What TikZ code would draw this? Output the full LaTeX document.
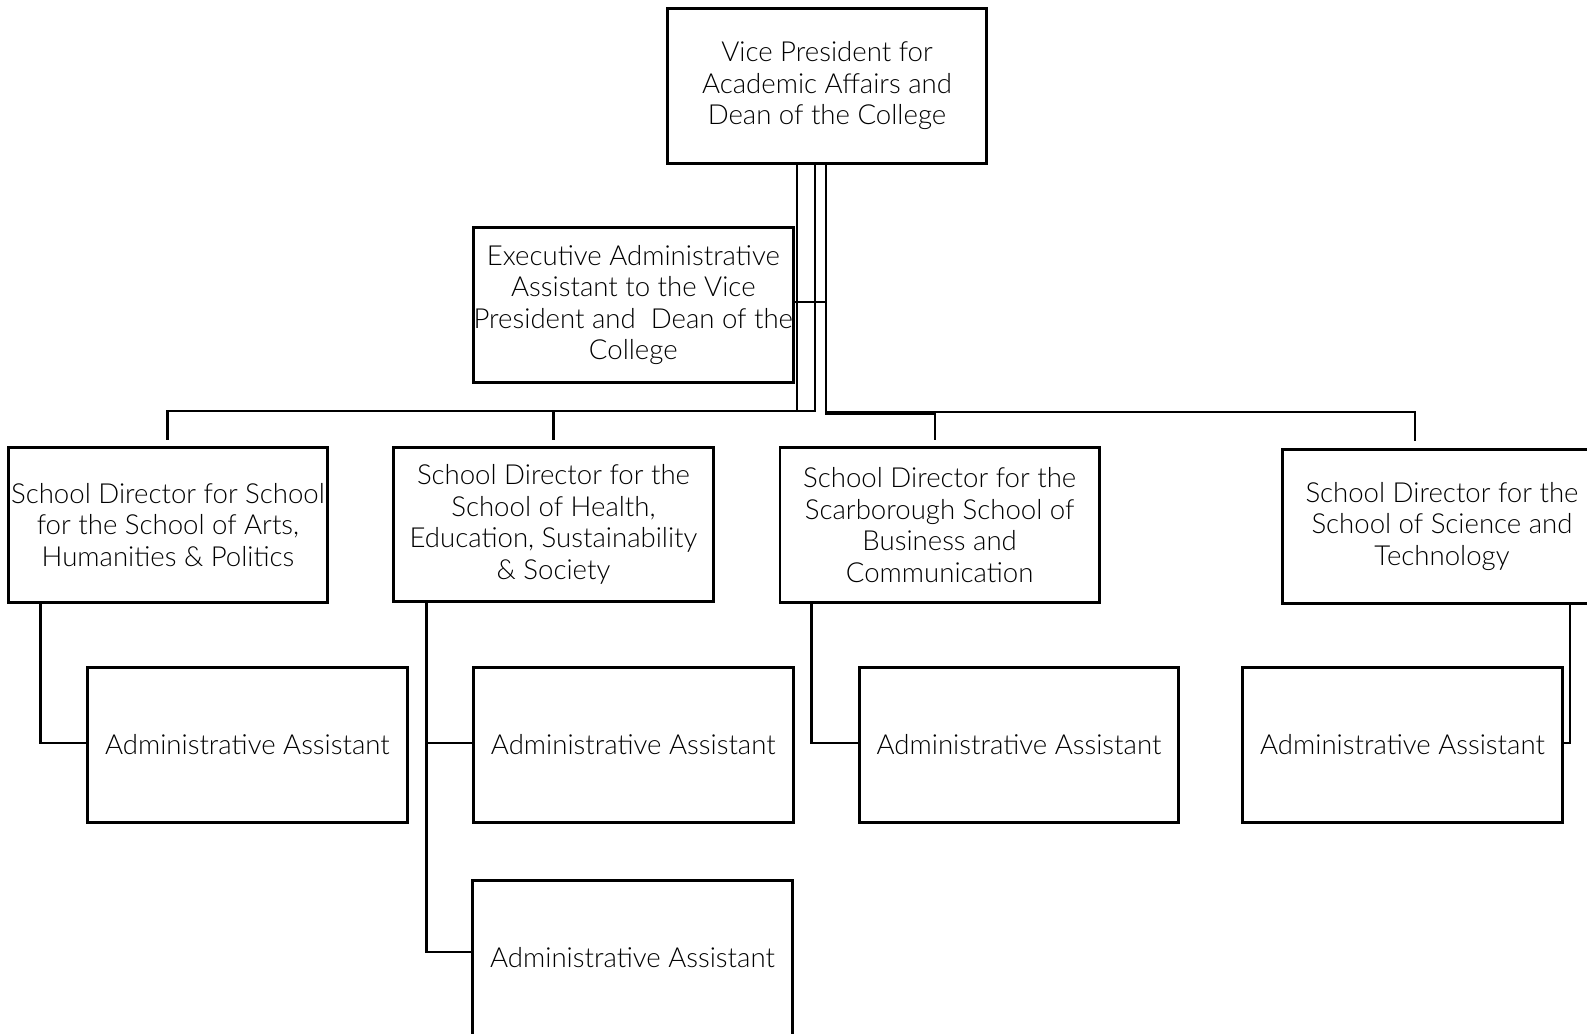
\documentclass[tikz,border=0pt]{standalone}
\usepackage{fontspec}
\setmainfont{Lato}[UprightFont={* Light},BoldFont={*}]
\begin{document}
\begin{tikzpicture}[x=0.5pt,y=-0.5pt,
  box/.style={draw=black,line width=1.45pt,fill=white,minimum width=159.75pt,minimum height=77.25pt,inner sep=0pt,align=center,text=black,font=\fontsize{13.8pt}{15.75pt}\selectfont},
  conn/.style={draw=black,line width=1.45pt},
  stub/.style={conn,shorten >=3.2pt}]
\useasboundingbox[fill=white] (0,0) rectangle (1587,1034);
% nodes
\node[box] (vp) at (827,85.8) {Vice President for\\Academic Affairs and\\Dean of the College};
\node[box] (exec) at (633.3,304.9) {Executive Administrative\\Assistant to the Vice\\President and\ \ Dean of the\\College};
\node[box] (arts) at (168,524.8) {School Director for School\\for the School of Arts,\\Humanities \& Politics};
\node[box] (health) at (553.5,524.6) {School Director for the\\School of Health,\\Education, Sustainability\\\& Society};
\node[box] (scarb) at (939.7,525) {School Director for the\\Scarborough School of\\Business and\\Communication};
\node[box] (sci) at (1442,526.3) {School Director for the\\School of Science and\\Technology};
\node[box] (a1) at (247.4,745) {Administrative Assistant};
\node[box] (a2) at (633.3,745) {Administrative Assistant};
\node[box] (a3) at (1019,745) {Administrative Assistant};
\node[box] (a4) at (1402.5,745) {Administrative Assistant};
\node[box] (a5) at (632.5,958) {Administrative Assistant};
% guide coordinates
\coordinate (g1) at (797,411);
\coordinate (g2) at (815,411);
\coordinate (g3) at (826,302);
\coordinate (g4) at (826,413.3);
\coordinate (g5) at (826,412);
\coordinate (xa) at (167.7,0);
\coordinate (xh) at (553.3,0);
\coordinate (xs) at (935,0);
\coordinate (xt) at (1415,0);
\coordinate (ga) at (40.7,0);
\coordinate (gh) at (426.5,0);
\coordinate (gs) at (811.6,0);
\coordinate (gt) at (1570,0);
% top connectors
\draw[conn] (vp.south -| g3) -- (g3) -- (g3 -| exec.east);
\draw[stub] (vp.south -| g1) -- (g1) -- (g1 -| xa) -- (arts.north -| xa);
\draw[stub] (vp.south -| g2) -- (g2) -- (g2 -| xh) -- (health.north -| xh);
\draw[stub] (vp.south -| g4) -- (g4) -- (g4 -| xs) -- (scarb.north -| xs);
\draw[stub] (vp.south -| g5) -- (g5) -- (g5 -| xt) -- (sci.north -| xt);
% lower connectors
\draw[conn] (arts.south -| ga) |- ([yshift=1pt]a1.west);
\draw[conn] (health.south -| gh) |- ([yshift=1pt]a2.west);
\draw[conn] (health.south -| gh) |- ([yshift=3pt]a5.west);
\draw[conn] (scarb.south -| gs) |- ([yshift=1pt]a3.west);
\draw[conn] (sci.south -| gt) |- ([yshift=1pt]a4.east);
\end{tikzpicture}
\end{document}
